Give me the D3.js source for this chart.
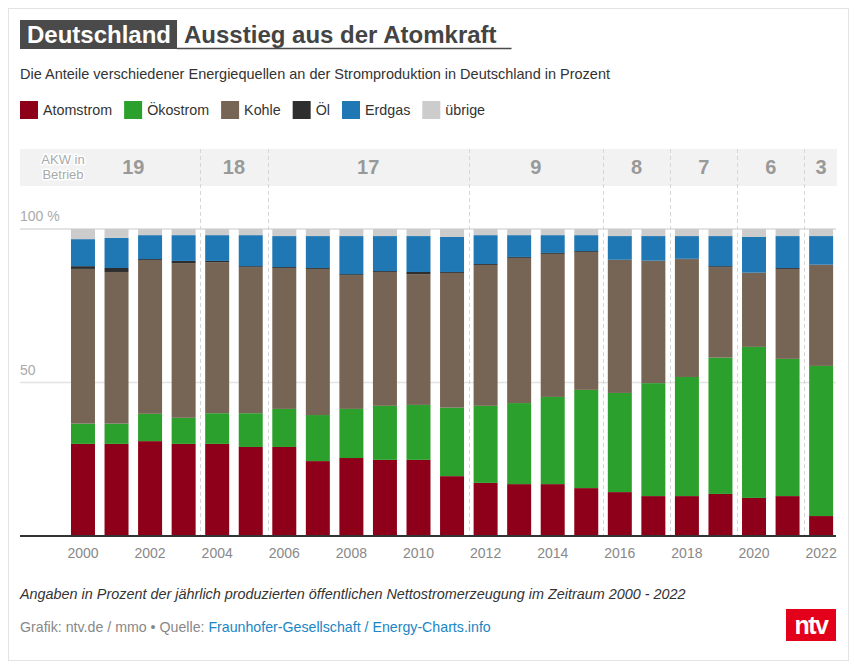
<!DOCTYPE html>
<html>
<head>
<meta charset="utf-8">
<script src="https://cdn.jsdelivr.net/npm/d3@7"></script>
<style>
html,body{margin:0;padding:0;background:#fff;}
svg{display:block;font-family:"Liberation Sans",Arial,sans-serif;}
</style>
</head>
<body>
<svg id="chart" width="855" height="665"></svg>
<script>
const years = [2000,2001,2002,2003,2004,2005,2006,2007,2008,2009,2010,2011,2012,2013,2014,2015,2016,2017,2018,2019,2020,2021,2022];
const atomstrom = [30.0,30.0,30.9,30.0,30.0,29.0,29.0,24.4,25.4,24.8,24.8,19.5,17.3,16.9,16.9,15.6,14.3,13.0,13.0,13.7,12.4,13.0,6.5];
const oekostrom = [6.6,6.6,8.9,8.5,10.0,11.0,12.4,15.0,16.0,17.6,17.9,22.3,25.1,26.4,28.4,32.0,32.3,36.8,38.8,44.4,49.2,44.7,48.9];
const kohle     = [50.4,49.4,50.1,50.4,49.2,47.6,45.9,47.6,43.6,43.6,42.6,43.9,45.9,47.3,46.6,44.9,43.3,39.8,38.4,29.5,24.1,29.3,32.9];
const oel       = [0.9,1.3,0.3,0.7,0.4,0.3,0.3,0.3,0.3,0.3,0.7,0.3,0.3,0.3,0.3,0.3,0.1,0.1,0.1,0.3,0.1,0.3,0.1];
const erdgas    = [8.8,9.8,7.8,8.4,8.4,10.1,10.1,10.4,12.4,11.4,11.7,11.4,9.4,7.1,5.8,5.2,7.7,8.0,7.4,9.8,11.6,10.4,9.3];
const uebrige   = [3.3,2.9,2.0,2.0,2.0,2.0,2.3,2.3,2.3,2.3,2.3,2.6,2.0,2.0,2.0,2.0,2.3,2.3,2.3,2.3,2.6,2.3,2.3];
const seriesNames = ["Atomstrom","Ökostrom","Kohle","Öl","Erdgas","übrige"];
const seriesColors = ["#8e0019","#2ca02c","#766554","#2e2e2e","#1f77b4","#cccccc"];
const akwCounts = [19,18,17,9,8,7,6,3];
const akwStart  = [2000,2004,2006,2012,2016,2018,2020,2022];
const akwEnd    = [2003,2005,2011,2015,2017,2019,2021,2022];
const yTicks = [50,100];
const xTickYears = [2000,2002,2004,2006,2008,2010,2012,2014,2016,2018,2020,2022];

const svg = d3.select("#chart");
const seriesData = [atomstrom,oekostrom,kohle,oel,erdgas,uebrige];
const table = years.map((y,i)=>{const o={year:y}; seriesNames.forEach((n,k)=>o[n]=seriesData[k][i]); return o;});

// frame
svg.append("rect").attr("x",8.5).attr("y",8.5).attr("width",840).attr("height",652)
  .attr("fill","none").attr("stroke","#e3e3e3").attr("stroke-width",1);

// title
const t1 = svg.append("text").attr("x",27).attr("y",43).attr("font-size",24).attr("font-weight","bold")
  .attr("fill","#fff").text("Deutschland");
const w1 = t1.node().getComputedTextLength();
svg.insert("rect","text").attr("x",20).attr("y",20).attr("width",w1+13).attr("height",29).attr("fill","#4a4a4a");
const t2 = svg.append("text").attr("x",20+w1+13+7).attr("y",43).attr("font-size",24).attr("font-weight","bold")
  .attr("fill","#444").text("Ausstieg aus der Atomkraft");
const w2 = t2.node().getComputedTextLength();
svg.append("line").attr("x1",20+w1+13).attr("x2",20+w1+13+7+w2+15).attr("y1",48.5).attr("y2",48.5)
  .attr("stroke","#4a4a4a").attr("stroke-width",1.5);

svg.append("text").attr("x",20).attr("y",79).attr("font-size",14.5).attr("fill","#333")
  .text("Die Anteile verschiedener Energiequellen an der Stromproduktion in Deutschland in Prozent");

// legend
let lx = 20;
seriesNames.forEach((n,i)=>{
  const g = svg.append("g").attr("transform",`translate(${lx},101)`);
  g.append("rect").attr("width",18).attr("height",18).attr("fill",seriesColors[i]);
  const tx = g.append("text").attr("x",23).attr("y",14).attr("font-size",14.3).attr("fill","#333").text(n);
  lx += 23 + tx.node().getComputedTextLength() + 12;
});

// scales
const x = d3.scaleBand().domain(years).range([66.2,837.9]).paddingInner(0.285).paddingOuter(0.1425);
const y = d3.scaleLinear().domain([0,100]).range([536,229]);
const plotL = 20, plotR = 836;

// AKW band
svg.append("rect").attr("x",plotL).attr("y",149).attr("width",plotR-plotL+1).attr("height",37).attr("fill","#f2f2f2");

// gridlines
yTicks.forEach(v=>{
  svg.append("line").attr("x1",plotL).attr("x2",plotR).attr("y1",y(v)).attr("y2",y(v))
    .attr("stroke","#e3e3e3").attr("stroke-width",v===100?2:1.5);
  svg.append("text").attr("x",plotL).attr("y",y(v)-8).attr("font-size",14).attr("fill","#aaa")
    .text(v===100?"100 %":v);
});

// separators
const step = x.step();
akwStart.slice(1).forEach(yr=>{
  const sx = Math.round(x(yr) - (step - x.bandwidth())/2) + 0.5;
  svg.append("line").attr("x1",sx).attr("x2",sx).attr("y1",149).attr("y2",536)
    .attr("stroke","#d6d6d6").attr("stroke-width",1).attr("stroke-dasharray","4,3");
});

// AKW labels
akwCounts.forEach((c,i)=>{
  const cx = (x(akwStart[i]) + x(akwEnd[i]) + x.bandwidth())/2;
  svg.append("text").attr("x",cx).attr("y",174).attr("text-anchor","middle").attr("font-size",20)
    .attr("font-weight","bold").attr("fill","#999").text(c);
});
const akwLbl = svg.append("text").attr("x",63).attr("font-size",13).attr("fill","#aaa")
  .attr("text-anchor","middle").attr("stroke","#fff").attr("stroke-width",3).attr("paint-order","stroke")
  .attr("stroke-linejoin","round");
akwLbl.append("tspan").attr("x",63).attr("y",164).text("AKW in");
akwLbl.append("tspan").attr("x",63).attr("y",179).text("Betrieb");

// bars
const stack = d3.stack().keys(seriesNames)(table);
svg.append("g").selectAll("g").data(stack).join("g").attr("fill",(d,i)=>seriesColors[i])
  .selectAll("rect").data(d=>d).join("rect")
  .attr("x",d=>x(d.data.year)).attr("width",x.bandwidth())
  .attr("y",d=>y(d[1])).attr("height",d=>Math.max(0,y(d[0])-y(d[1])));

// axis
svg.append("line").attr("x1",plotL).attr("x2",plotR).attr("y1",536).attr("y2",536)
  .attr("stroke","#333").attr("stroke-width",2);
const xAxis = d3.axisBottom(x).tickValues(xTickYears).tickSize(0).tickPadding(0);
const ax = svg.append("g").attr("transform","translate(0,536)").call(xAxis);
ax.select(".domain").remove();
ax.selectAll("text").attr("font-size",14).attr("fill","#888").attr("dy",null).attr("y",22)
  .attr("font-family","Liberation Sans, Arial, sans-serif");

// footer
svg.append("text").attr("x",20).attr("y",599).attr("font-size",14.4).attr("font-style","italic").attr("fill","#333")
  .text("Angaben in Prozent der jährlich produzierten öffentlichen Nettostromerzeugung im Zeitraum 2000 - 2022");
const src = svg.append("text").attr("x",20).attr("y",632).attr("font-size",14.2).attr("fill","#888");
src.append("tspan").text("Grafik: ntv.de / mmo • Quelle: ");
src.append("tspan").attr("fill","#1a86c4").text("Fraunhofer-Gesellschaft / Energy-Charts.info");

// logo
svg.append("rect").attr("x",786).attr("y",609).attr("width",50).attr("height",32).attr("fill","#e2001a");
svg.append("text").attr("x",811).attr("y",634).attr("text-anchor","middle").attr("font-size",25)
  .attr("font-weight","bold").attr("fill","#fff").attr("letter-spacing",-1.5).text("ntv");
</script>
</body>
</html>
